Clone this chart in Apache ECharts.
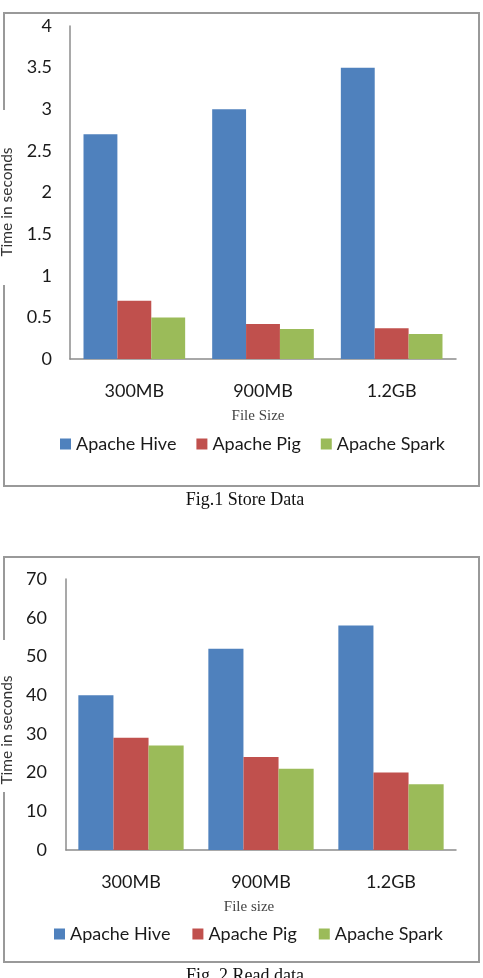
<!DOCTYPE html>
<html>
<head>
<meta charset="utf-8">
<script src="https://cdn.jsdelivr.net/npm/echarts@6/dist/echarts.min.js"></script>
<style>
  html, body { margin: 0; padding: 0; background: #fff; }
  #chart { width: 483px; height: 978px; }
</style>
</head>
<body>
<div id="chart"></div>
<script>
// data
const fileSizes = ['300MB', '900MB', '1.2GB']
const tools = ['Apache Hive', 'Apache Pig', 'Apache Spark']

// Fig.1 store data (seconds)
const storeHive = [2.7, 3.0, 3.5]
const storePig = [0.7, 0.42, 0.37]
const storeSpark = [0.5, 0.36, 0.3]

// Fig.2 read data (seconds)
const readHive = [40, 52, 58]
const readPig = [29, 24, 20]
const readSpark = [27, 21, 17]

const colors = ['#4F81BD', '#C0504D', '#9BBB59']
const labelFont = 'Lato, "Open Sans", sans-serif'
const serifFont = '"Liberation Serif", "DejaVu Serif", serif'

const axisLine = { show: true, lineStyle: { color: '#8c8c8c', width: 1.5 } }

function xAxisFor(gridIndex, name, namePad) {
  return {
    type: 'category',
    gridIndex: gridIndex,
    data: fileSizes,
    axisLine: axisLine,
    axisTick: { show: false },
    axisLabel: { color: '#1a1a1a', fontFamily: labelFont, fontSize: 18, margin: 23 },
    name: name,
    nameLocation: 'middle',
    nameGap: 50,
    nameTextStyle: { fontFamily: serifFont, fontSize: 15, color: '#444', padding: namePad }
  }
}

function yAxisFor(gridIndex, max, interval, margin) {
  return {
    type: 'value',
    gridIndex: gridIndex,
    min: 0,
    max: max,
    interval: interval,
    axisLine: axisLine,
    axisTick: { show: false },
    splitLine: { show: false },
    axisLabel: { color: '#1a1a1a', fontFamily: labelFont, fontSize: 18, margin: margin }
  }
}

function barsFor(idx, values, gap) {
  return values.map((vals, i) => ({
    name: tools[i],
    type: 'bar',
    xAxisIndex: idx,
    yAxisIndex: idx,
    data: vals,
    barGap: '0%',
    barCategoryGap: gap,
    itemStyle: { color: colors[i] }
  }))
}

function legendFor(left, top, gap) {
  return {
    data: tools,
    left: left,
    top: top,
    itemWidth: 11,
    itemHeight: 11,
    itemGap: gap,
    icon: 'rect',
    textStyle: { fontFamily: labelFont, fontSize: 18, color: '#1a1a1a' }
  }
}

function frame(yTop, yBottom, gapFrom, gapTo) {
  return {
    type: 'polyline',
    silent: true,
    shape: { points: [[4, gapFrom], [4, yTop], [479, yTop], [479, yBottom], [4, yBottom], [4, gapTo]] },
    style: { stroke: '#999', lineWidth: 2, fill: null }
  }
}

function yName(x, y) {
  return {
    type: 'text',
    x: x,
    y: y,
    rotation: Math.PI / 2,
    style: {
      text: 'Time in seconds',
      fontFamily: labelFont,
      fontSize: 15.5,
      fill: '#333',
      align: 'center',
      verticalAlign: 'middle'
    }
  }
}

function caption(text, y) {
  return {
    type: 'text',
    x: 245,
    y: y,
    style: { text: text, fontFamily: serifFont, fontSize: 18, fill: '#111', align: 'center', verticalAlign: 'middle' }
  }
}

const chart = echarts.init(document.getElementById('chart'))

chart.setOption({
  animation: false,
  backgroundColor: '#fff',
  grid: [
    { left: 70, right: 27, top: 26, bottom: 619 },
    { left: 66, right: 27, top: 579, bottom: 128 }
  ],
  xAxis: [
    xAxisFor(0, 'File Size', [0, 10, 0, 0]),
    xAxisFor(1, 'File size', [0, 24, 0, 0])
  ],
  yAxis: [
    yAxisFor(0, 4, 0.5, 18),
    yAxisFor(1, 70, 10, 19)
  ],
  legend: [
    legendFor(55, 430, 20),
    legendFor(49, 920, 22)
  ],
  series: [
    ...barsFor(0, [storeHive, storePig, storeSpark], '21%'),
    ...barsFor(1, [readHive, readPig, readSpark], '19%')
  ],
  graphic: [
    frame(13, 486, 110, 285),
    frame(557, 962, 640, 792),
    yName(7, 202),
    yName(7, 730),
    caption('Fig.1 Store Data', 500),
    caption('Fig. 2 Read data', 976)
  ]
})

window.addEventListener('resize', function () {
  chart.resize()
})
</script>
</body>
</html>
